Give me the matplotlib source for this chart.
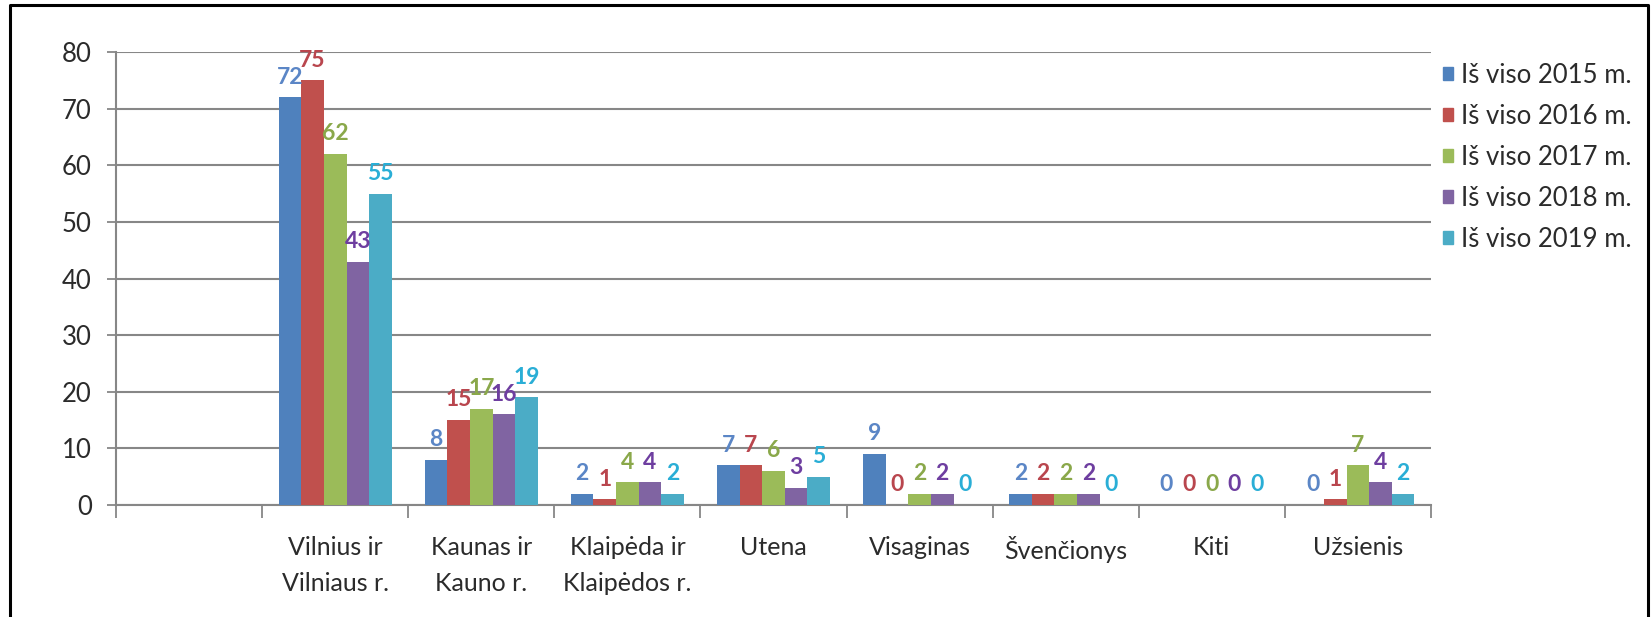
import matplotlib.pyplot as plt
import numpy as np

plt.rcParams['font.family'] = ['Lato', 'DejaVu Sans']

categories = ['', 'Vilnius ir\nVilniaus r.', 'Kaunas ir\nKauno r.', 'Klaipėda ir\nKlaipėdos r.',
              'Utena', 'Visaginas', 'Švenčionys', 'Kiti', 'Užsienis']
series_names = ['Iš viso 2015 m.', 'Iš viso 2016 m.', 'Iš viso 2017 m.',
                'Iš viso 2018 m.', 'Iš viso 2019 m.']
# first category is empty in the original chart
v2015 = [None, 72, 8, 2, 7, 9, 2, 0, 0]
v2016 = [None, 75, 15, 1, 7, 0, 2, 0, 1]
v2017 = [None, 62, 17, 4, 6, 2, 2, 0, 7]
v2018 = [None, 43, 16, 4, 3, 2, 2, 0, 4]
v2019 = [None, 55, 19, 2, 5, 0, 0, 0, 2]
series = [v2015, v2016, v2017, v2018, v2019]

bar_colors = ['#4F81BD', '#C0504D', '#9BBB59', '#8064A2', '#4BACC6']
label_colors = ['#5B86C6', '#B9464E', '#8AA84A', '#6E3EA0', '#2AAED6']

fig = plt.figure(figsize=(16.51, 6.17), dpi=100)
ax = fig.add_axes([0.0703, 0.1815, 0.7964, 0.7342])

n = len(categories)
centers = np.arange(n) + 0.5
width = 0.155
for k, vals in enumerate(series):
    xs = centers + (k - 2) * width
    for x, v in zip(xs, vals):
        if v is None:
            continue
        ax.bar(x, v, width=width, color=bar_colors[k], zorder=3)
        ax.annotate(str(v), (x, v), xytext=(0, 7), textcoords='offset points',
                    ha='center', va='bottom', fontsize=16.5, fontweight='bold',
                    color=label_colors[k], zorder=4)

ax.set_xlim(0, n)
ax.set_ylim(0, 80)
ax.set_yticks(range(0, 81, 10))
ax.yaxis.grid(True, color='#878787', linewidth=1.5, zorder=0)
ax.tick_params(axis='y', labelsize=18.5, length=6.5, width=1.3, color='#878787',
               pad=11, labelcolor='#2b2b2b')

ax.set_xticks(range(n + 1))
ax.set_xticklabels([])
ax.set_xticks(centers, minor=True)
ax.set_xticklabels(categories, minor=True, fontsize=18, color='#2b2b2b', linespacing=1.72)
ax.tick_params(axis='x', which='major', length=9.4, width=1.3, color='#878787', direction='out')
ax.tick_params(axis='x', which='minor', length=0, pad=22)

for side in ['top', 'right']:
    ax.spines[side].set_visible(False)
for side in ['left', 'bottom']:
    ax.spines[side].set_color('#878787')
    ax.spines[side].set_linewidth(1.5)

handles = [plt.Rectangle((0, 0), 1, 1, color=c) for c in bar_colors]
fig.legend(handles, series_names, loc='upper left', bbox_to_anchor=(0.874, 0.898),
           frameon=False, fontsize=18.5, handlelength=0.4, handleheight=0.4,
           handletextpad=0.3, labelspacing=0.62, borderpad=0, borderaxespad=0,
           labelcolor='#2b2b2b')

# outer frame
fig.add_artist(plt.Line2D([0.006, 0.006, 0.998, 0.998], [0.0, 0.992, 0.992, 0.0],
                          transform=fig.transFigure, color='black', linewidth=2.2))

fig.savefig('out.png', dpi=100)
